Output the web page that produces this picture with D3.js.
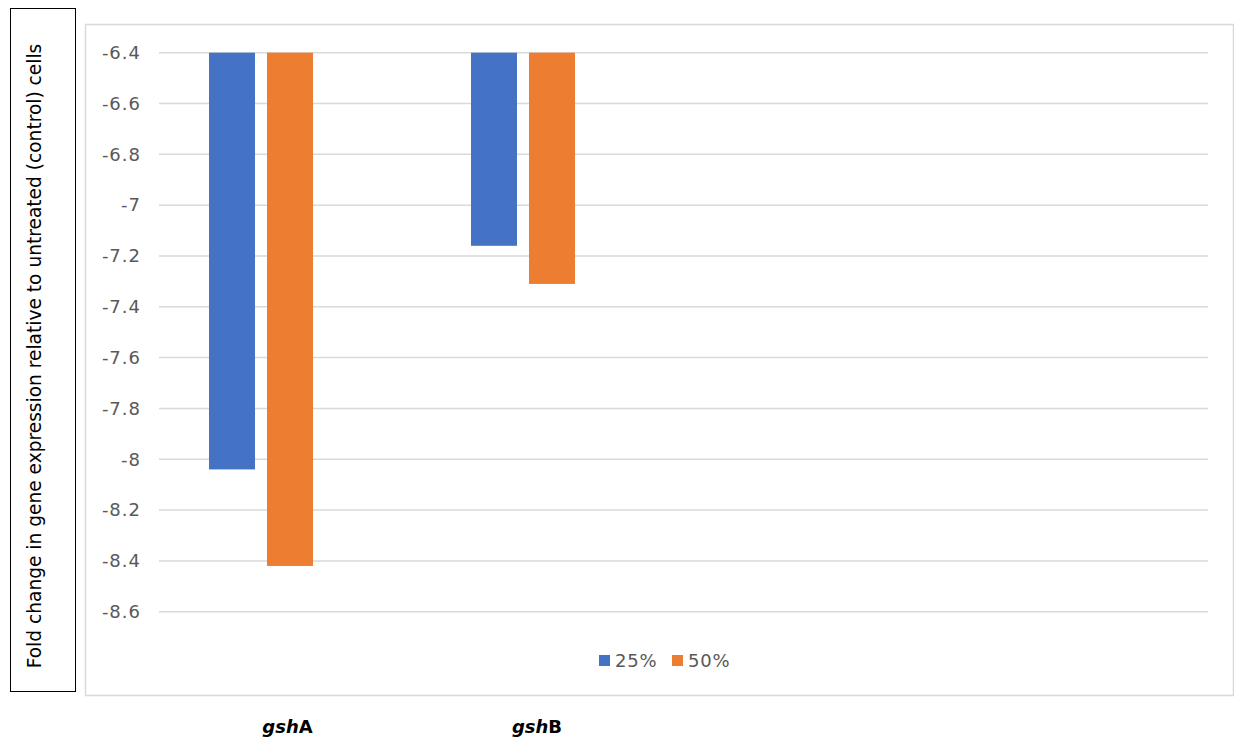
<!DOCTYPE html>
<html>
<head>
<meta charset="utf-8">
<script src="https://cdn.jsdelivr.net/npm/d3@7/dist/d3.min.js"></script>
<style>
  html, body { margin: 0; padding: 0; background: #fff; }
  svg { display: block; font-family: "DejaVu Sans", Verdana, sans-serif; }
</style>
</head>
<body>
<svg id="chart" width="1234" height="738"></svg>
<script>
const categories = ["gshA", "gshB"];
const categoryItalic = ["gsh", "gsh"];
const categoryPlain = ["A", "B"];
const seriesNames = ["25%", "50%"];
const values25 = [-8.04, -7.16];
const values50 = [-8.42, -7.31];
const seriesColors = ["#4472C4", "#ED7D31"];
const yTicks = [-6.4, -6.6, -6.8, -7.0, -7.2, -7.4, -7.6, -7.8, -8.0, -8.2, -8.4, -8.6];
const yTitle = "Fold change in gene expression relative to untreated (control) cells";

const svg = d3.select("#chart");

// outer plot-area border
svg.append("rect")
  .attr("x", 85.5).attr("y", 24.5).attr("width", 1148).attr("height", 671)
  .attr("fill", "none").attr("stroke", "#d9d9d9").attr("stroke-width", 1.5);

// y-title box
svg.append("rect")
  .attr("x", 10.5).attr("y", 8.5).attr("width", 65).attr("height", 683)
  .attr("fill", "none").attr("stroke", "#000").attr("stroke-width", 1);

svg.append("text")
  .attr("transform", "translate(41," + 356 + ") rotate(-90)")
  .attr("text-anchor", "middle")
  .attr("font-size", 18.6)
  .attr("fill", "#000")
  .text(yTitle);

const y = d3.scaleLinear().domain([-6.4, -8.6]).range([52.7, 611.7]);
const plotLeft = 159, plotRight = 1208;

// gridlines
svg.append("g").selectAll("line").data(yTicks).join("line")
  .attr("x1", plotLeft).attr("x2", plotRight)
  .attr("y1", d => y(d)).attr("y2", d => y(d))
  .attr("stroke", "#d9d9d9").attr("stroke-width", 1.5);

// y axis labels
const yAxis = d3.axisLeft(y).tickValues(yTicks).tickSize(0).tickPadding(0)
  .tickFormat(d => d3.format("")(+d.toFixed(1)).replace("−", "-"));
const gy = svg.append("g").attr("transform", "translate(141,0)").call(yAxis);
gy.select(".domain").remove();
gy.selectAll("text").attr("font-size", 18).attr("fill", "#595959")
  .attr("font-family", "DejaVu Sans, Verdana, sans-serif")
  .attr("letter-spacing", 1);

// bars
const x0 = d3.scaleBand().domain(categories).range([130, 654]).paddingInner(158 / 262).paddingOuter(158 / 524);
const x1 = d3.scaleBand().domain(seriesNames).range([0, x0.bandwidth()]).paddingInner(12 / 58).paddingOuter(0);
const color = d3.scaleOrdinal().domain(seriesNames).range(seriesColors);
const rows = categories.map((c, i) => ({ cat: c, vals: [values25[i], values50[i]] }));

const groups = svg.append("g").selectAll("g").data(rows).join("g")
  .attr("transform", d => "translate(" + x0(d.cat) + ",0)");
groups.selectAll("rect").data(d => seriesNames.map((s, j) => ({ s, v: d.vals[j] }))).join("rect")
  .attr("x", d => x1(d.s))
  .attr("width", x1.bandwidth())
  .attr("y", y(-6.4))
  .attr("height", d => y(d.v) - y(-6.4))
  .attr("fill", d => color(d.s));

// legend
const legend = svg.append("g").attr("transform", "translate(599,655)");
const legendX = d3.scalePoint().domain(seriesNames).range([0, 73]);
const li = legend.selectAll("g").data(seriesNames).join("g")
  .attr("transform", d => "translate(" + legendX(d) + ",0)");
li.append("rect").attr("width", 11).attr("height", 11).attr("fill", d => color(d));
li.append("text").attr("x", 16).attr("y", 12).attr("font-size", 18).attr("fill", "#595959")
  .attr("letter-spacing", 0.8).text(d => d);

// category labels (below the chart)
const xLabel = d3.scaleBand().domain(categories).range([162.75, 661.75]);
const cl = svg.append("g").selectAll("text").data(categories).join("text")
  .attr("x", d => xLabel(d) + xLabel.bandwidth() / 2)
  .attr("y", 733)
  .attr("text-anchor", "middle")
  .attr("font-size", 18)
  .attr("font-weight", "bold")
  .attr("fill", "#000");
cl.append("tspan").attr("font-style", "italic").text((d, i) => categoryItalic[i]);
cl.append("tspan").text((d, i) => categoryPlain[i]);
</script>
</body>
</html>
